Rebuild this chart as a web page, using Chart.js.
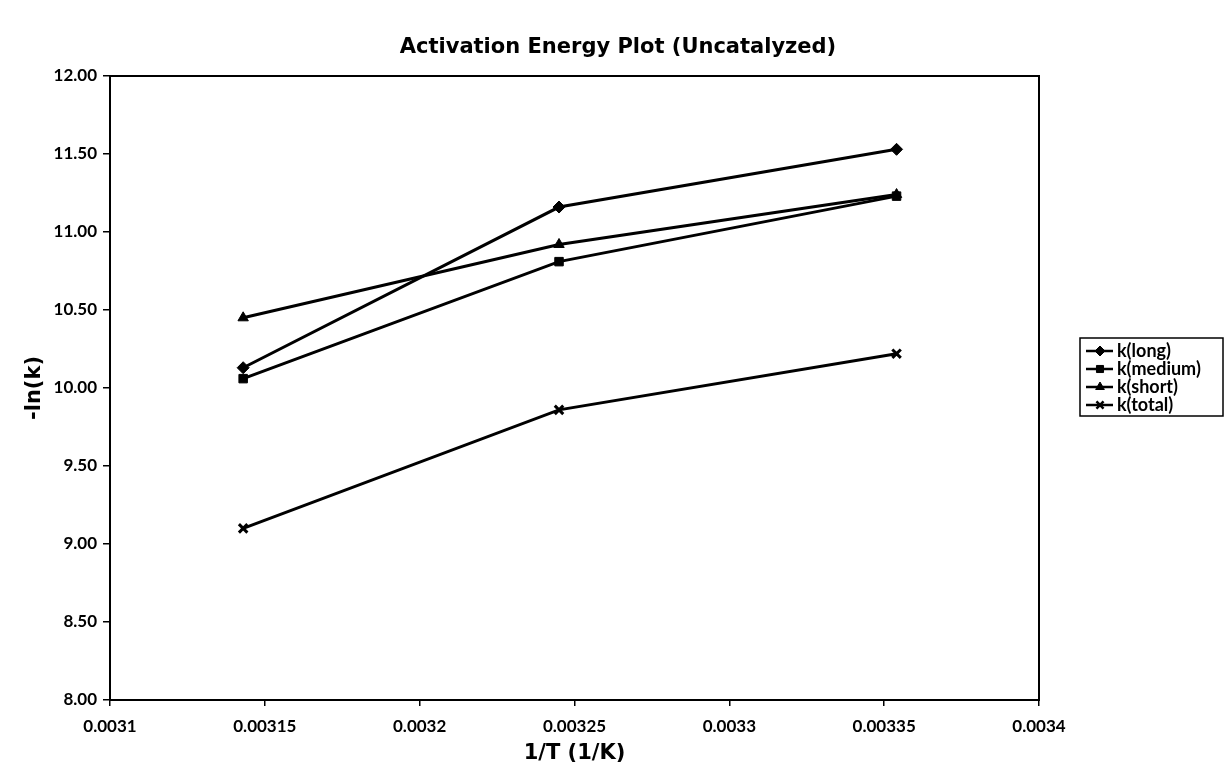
<!DOCTYPE html>
<html>
<head>
<meta charset="utf-8">
<title>Activation Energy Plot (Uncatalyzed)</title>
<script src="https://cdn.jsdelivr.net/npm/chart.js@4.4.1/dist/chart.umd.min.js"></script>
<style>
  html, body { margin: 0; padding: 0; background: #fff; }
  #wrap { width: 1226px; height: 770px; }
</style>
</head>
<body>
<div id="wrap"><canvas id="chart-ea" width="1226" height="770"></canvas></div>
<script>
// 1/T em 1/K (45, 35 e 25 C) e -ln(k) de cada fracao
const invT = [0.003143, 0.003245, 0.003354];
const kLong = [10.13, 11.16, 11.53];
const kMedium = [10.06, 10.81, 11.23];
const kShort = [10.45, 10.92, 11.24];
const kTotal = [9.10, 9.86, 10.22];

const seriesNames = ["k(long)", "k(medium)", "k(short)", "k(total)"];
const seriesStyles = ["rectRot", "rect", "triangle", "crossRot"];
const yTicks = [8, 8.5, 9, 9.5, 10, 10.5, 11, 11.5, 12];

const FAMILY = "'DejaVu Sans', Verdana, sans-serif";
const LABEL_FAMILY = "Lato, 'DejaVu Sans', sans-serif";
const TICK_FONT = { family: LABEL_FAMILY, size: 17, weight: "bold" };
const AXIS_TITLE_FONT = { family: FAMILY, size: 21, weight: "bold" };

function pts(ys) {
  return ys.map((y, i) => ({ x: invT[i], y }));
}

function makeDataset(name, ys, style) {
  return {
    label: name,
    data: pts(ys),
    showLine: true,
    borderColor: "#000",
    backgroundColor: "#000",
    borderWidth: 3,
    pointStyle: style,
    pointRadius: 6,
    pointBorderWidth: style === "crossRot" ? 3 : 1,
    tension: 0,
  };
}

// titulo centrado na largura toda do canvas
const topTitle = {
  id: "topTitle",
  afterDraw(chart) {
    const { ctx } = chart;
    ctx.save();
    ctx.font = "bold 21px " + FAMILY;
    ctx.fillStyle = "#000";
    ctx.textAlign = "center";
    ctx.textBaseline = "middle";
    ctx.fillText("Activation Energy Plot (Uncatalyzed)", 618, 48);
    ctx.restore();
  },
};

// caixa em volta da area do grafico
const frame = {
  id: "frame",
  afterDatasetsDraw(chart) {
    const { ctx, chartArea: a } = chart;
    ctx.save();
    ctx.strokeStyle = "#000";
    ctx.lineWidth = 2;
    ctx.strokeRect(a.left, a.top, a.right - a.left, a.bottom - a.top);
    ctx.restore();
  },
};

// legenda estilo Excel: linha com marcador dentro de uma caixa
const boxLegend = {
  id: "boxLegend",
  afterDraw(chart) {
    const { ctx } = chart;
    const x0 = 1080, y0 = 338, w = 143, rowH = 18;
    const sets = chart.data.datasets;
    ctx.save();
    ctx.strokeStyle = "#000";
    ctx.lineWidth = 1.5;
    ctx.strokeRect(x0, y0, w, rowH * sets.length + 6);
    ctx.font = "bold 18px " + LABEL_FAMILY;
    ctx.textBaseline = "middle";
    ctx.fillStyle = "#000";
    sets.forEach((ds, i) => {
      const cy = y0 + 13 + i * rowH;
      ctx.lineWidth = 2.5;
      ctx.beginPath();
      ctx.moveTo(x0 + 6, cy);
      ctx.lineTo(x0 + 33, cy);
      ctx.stroke();
      ctx.lineWidth = ds.pointStyle === "crossRot" ? 2.5 : 1;
      Chart.helpers.drawPoint(ctx, { pointStyle: ds.pointStyle, radius: 5, borderWidth: ctx.lineWidth }, x0 + 20, cy);
      ctx.fillText(ds.label, x0 + 37, cy);
    });
    ctx.restore();
  },
};

new Chart(document.getElementById("chart-ea"), {
  type: "scatter",
  data: {
    datasets: [
      makeDataset(seriesNames[0], kLong, seriesStyles[0]),
      makeDataset(seriesNames[1], kMedium, seriesStyles[1]),
      makeDataset(seriesNames[2], kShort, seriesStyles[2]),
      makeDataset(seriesNames[3], kTotal, seriesStyles[3]),
    ],
  },
  options: {
    responsive: false,
    animation: false,
    layout: { padding: { left: 0, right: 187, top: 76, bottom: 0 } },
    plugins: {
      legend: { display: false },
      tooltip: { enabled: false },
      title: { display: false },
    },
    scales: {
      x: {
        type: "linear",
        min: 0.0031,
        max: 0.0034,
        afterFit: (axis) => { axis.height = 70; },
        border: { display: true, color: "#000", width: 2 },
        grid: { drawOnChartArea: false, color: "#000", tickLength: 6, lineWidth: 1.5 },
        ticks: {
          stepSize: 0.00005,
          color: "#000",
          font: TICK_FONT,
          padding: 10,
          maxRotation: 0,
          callback: (v) => String(Number(v.toFixed(5))),
        },
        title: { display: true, text: "1/T (1/K)", color: "#000", font: AXIS_TITLE_FONT, padding: { top: 2, bottom: 4 } },
      },
      y: {
        min: 8,
        max: 12,
        afterBuildTicks: (axis) => { axis.ticks = yTicks.map((v) => ({ value: v })); },
        afterFit: (axis) => { axis.width = 110; },
        border: { display: true, color: "#000", width: 2 },
        grid: { drawOnChartArea: false, color: "#000", tickLength: 7, lineWidth: 1.5 },
        ticks: { color: "#000", font: TICK_FONT, padding: 6, callback: (v) => v.toFixed(2) },
        title: { display: true, text: "-ln(k)", color: "#000", font: AXIS_TITLE_FONT, padding: { top: 22, bottom: 0 } },
      },
    },
  },
  plugins: [frame, boxLegend, topTitle],
});
</script>
</body>
</html>
